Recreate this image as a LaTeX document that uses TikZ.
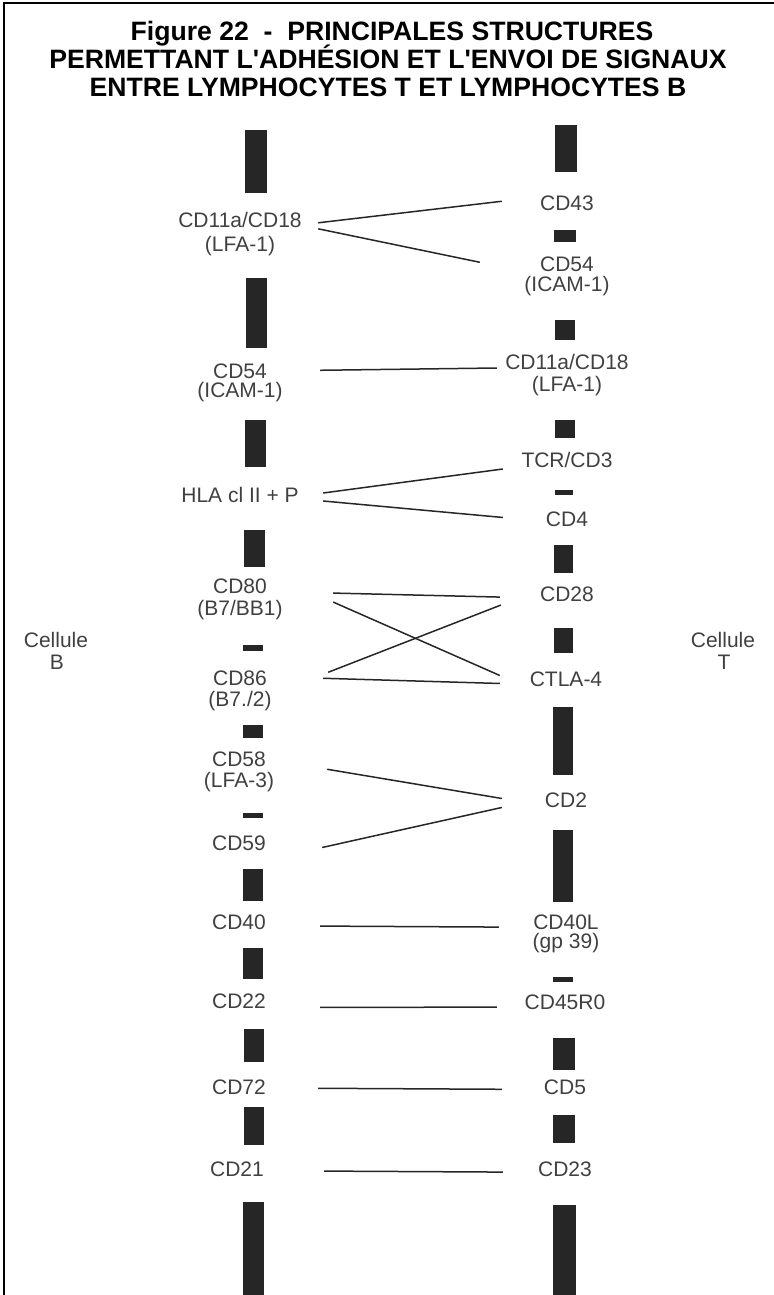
\documentclass[tikz,border=0pt]{standalone}
\usepackage{fontspec}
\setmainfont{Liberation Sans}
\definecolor{labgray}{gray}{0.25}
\definecolor{bargray}{gray}{0.15}
\definecolor{linegray}{gray}{0.15}
\begin{document}
\begin{tikzpicture}[x=1bp,y=-1bp,
  lab/.style={font=\fontsize{21bp}{23bp}\selectfont, text=labgray, inner sep=0pt, minimum width=130bp, anchor=base},
  side/.style={font=\fontsize{21bp}{23bp}\selectfont, text=labgray, inner sep=0pt, anchor=base},
  ttl/.style={font=\bfseries\fontsize{26.6bp}{28bp}\selectfont, inner sep=0pt, anchor=base},
  conn/.style={draw=linegray, line width=1.5bp},
  bar/.style={fill=bargray},
  frame/.style={draw=black, line width=1.6bp}]
\useasboundingbox (0,0) rectangle (774,1295);
\draw[frame] (4,1295) -- (4,3) -- (774,3);
% title
\node[ttl] (t1) at (392,40.5) {Figure 22\ \ -\ \ PRINCIPALES STRUCTURES};
\node[ttl] (t2) at (388,68.3) {PERMETTANT L\textquotesingle ADHÉSION ET L\textquotesingle ENVOI DE SIGNAUX};
\node[ttl] (t3) at (388,96.7) {ENTRE LYMPHOCYTES T ET LYMPHOCYTES B};
% left bars
\fill[bar] (245,130) rectangle (267,193);
\fill[bar] (246,278) rectangle (267,348);
\fill[bar] (245,420) rectangle (266,467);
\fill[bar] (244,530) rectangle (265,567);
\fill[bar] (243,645) rectangle (263,651);
\fill[bar] (243,725) rectangle (263,738);
\fill[bar] (243,813) rectangle (263,818);
\fill[bar] (243,869) rectangle (263,901);
\fill[bar] (243,948) rectangle (263,979);
\fill[bar] (244,1029) rectangle (264,1062);
\fill[bar] (244,1107) rectangle (264,1145);
\fill[bar] (243,1202) rectangle (264,1295);
% right bars
\fill[bar] (555,125) rectangle (577,172);
\fill[bar] (554,230) rectangle (576,242);
\fill[bar] (555,320) rectangle (575,340);
\fill[bar] (555,420) rectangle (575,438);
\fill[bar] (555,490) rectangle (573,495);
\fill[bar] (554,545) rectangle (573,573);
\fill[bar] (554,628) rectangle (573,653);
\fill[bar] (553,707) rectangle (573,775);
\fill[bar] (553,830) rectangle (573,902);
\fill[bar] (553,977) rectangle (573,982);
\fill[bar] (553,1038) rectangle (575,1070);
\fill[bar] (553,1115) rectangle (575,1143);
\fill[bar] (553,1205) rectangle (576,1295);
% side labels
\node[side] (cb1) at (56,647.5) {Cellule};
\node[side] (cb2) at (57,669.5) {B};
\node[side] (ct1) at (723,647.5) {Cellule};
\node[side] (ct2) at (724,669.5) {T};
% left labels
\node[lab] (lA1) at (240,227) {CD11a/CD18};
\node[lab] (lA2) at (240,251) {(LFA-1)};
\node[lab] (lB1) at (240,378) {CD54};
\node[lab] (lB2) at (240,397.5) {(ICAM-1)};
\node[lab] (lC) at (240,502.5) {HLA cl II + P};
\node[lab] (lD1) at (240,593) {CD80};
\node[lab] (lD2) at (240,615.5) {(B7/BB1)};
\node[lab] (lE1) at (240,685.5) {CD86};
\node[lab] (lE2) at (240,706) {(B7./2)};
\node[lab] (lF1) at (239,766.5) {CD58};
\node[lab] (lF2) at (239,787.5) {(LFA-3)};
\node[lab] (lG) at (239,850) {CD59};
\node[lab] (lH) at (239,929) {CD40};
\node[lab] (lI) at (239,1008) {CD22};
\node[lab] (lJ) at (239,1094.5) {CD72};
\node[lab] (lK) at (237,1176) {CD21};
% right labels
\node[lab] (rA) at (567,210) {CD43};
\node[lab] (rB1) at (567,271.5) {CD54};
\node[lab] (rB2) at (567,291) {(ICAM-1)};
\node[lab] (rC1) at (567,369.5) {CD11a/CD18};
\node[lab] (rC2) at (567,391) {(LFA-1)};
\node[lab] (rD) at (567,467.5) {TCR/CD3};
\node[lab] (rE) at (567,526) {CD4};
\node[lab] (rF) at (567,601) {CD28};
\node[lab] (rG) at (566,686) {CTLA-4};
\node[lab] (rH) at (566,807) {CD2};
\node[lab] (rI1) at (566,929) {CD40L};
\node[lab] (rI2) at (566,948) {(gp 39)};
\node[lab] (rJ) at (565,1009) {CD45R0};
\node[lab] (rK) at (565,1094.5) {CD5};
\node[lab] (rL) at (565,1176) {CD23};
% connectors
\draw[conn] ([shift={(13,3.3)}]lA1.east) -- ([shift={(0,-1.5)}]rA.west);
\draw[conn] ([shift={(13,9.3)}]lA1.east) -- ([shift={(-22,-2)}]rB1.west);
\draw[conn] ([shift={(15,-0.5)}]lB1.east) -- ([shift={(-5,6)}]rC1.west);
\draw[conn] ([shift={(18,-2)}]lC.east) -- ([shift={(1,9)}]rD.west);
\draw[conn] ([shift={(18,6)}]lC.east) -- ([shift={(1,-1.3)}]rE.west);
\draw[conn] ([shift={(28,7.3)}]lD1.east) -- ([shift={(-2,3.3)}]rF.west);
\draw[conn] ([shift={(28,16.3)}]lD1.east) -- ([shift={(-1,-3.3)}]rG.west);
\draw[conn] ([shift={(23,-6)}]lE1.east) -- ([shift={(-1,11.3)}]rF.west);
\draw[conn] ([shift={(18,0)}]lE1.east) -- ([shift={(-1,4.7)}]rG.west);
\draw[conn] ([shift={(23,10)}]lF1.east) -- ([shift={(1,-1.3)}]rH.west);
\draw[conn] ([shift={(18,4.7)}]lG.east) -- ([shift={(1,7.7)}]rH.west);
\draw[conn] ([shift={(16,4.3)}]lH.east) -- ([shift={(-2,5.3)}]rI1.west);
\draw[conn] ([shift={(16,6.7)}]lI.east) -- ([shift={(-3,5.3)}]rJ.west);
\draw[conn] ([shift={(14,1)}]lJ.east) -- ([shift={(2,2)}]rK.west);
\draw[conn] ([shift={(22,2.3)}]lK.east) -- ([shift={(3,3.3)}]rL.west);
\end{tikzpicture}
\end{document}
